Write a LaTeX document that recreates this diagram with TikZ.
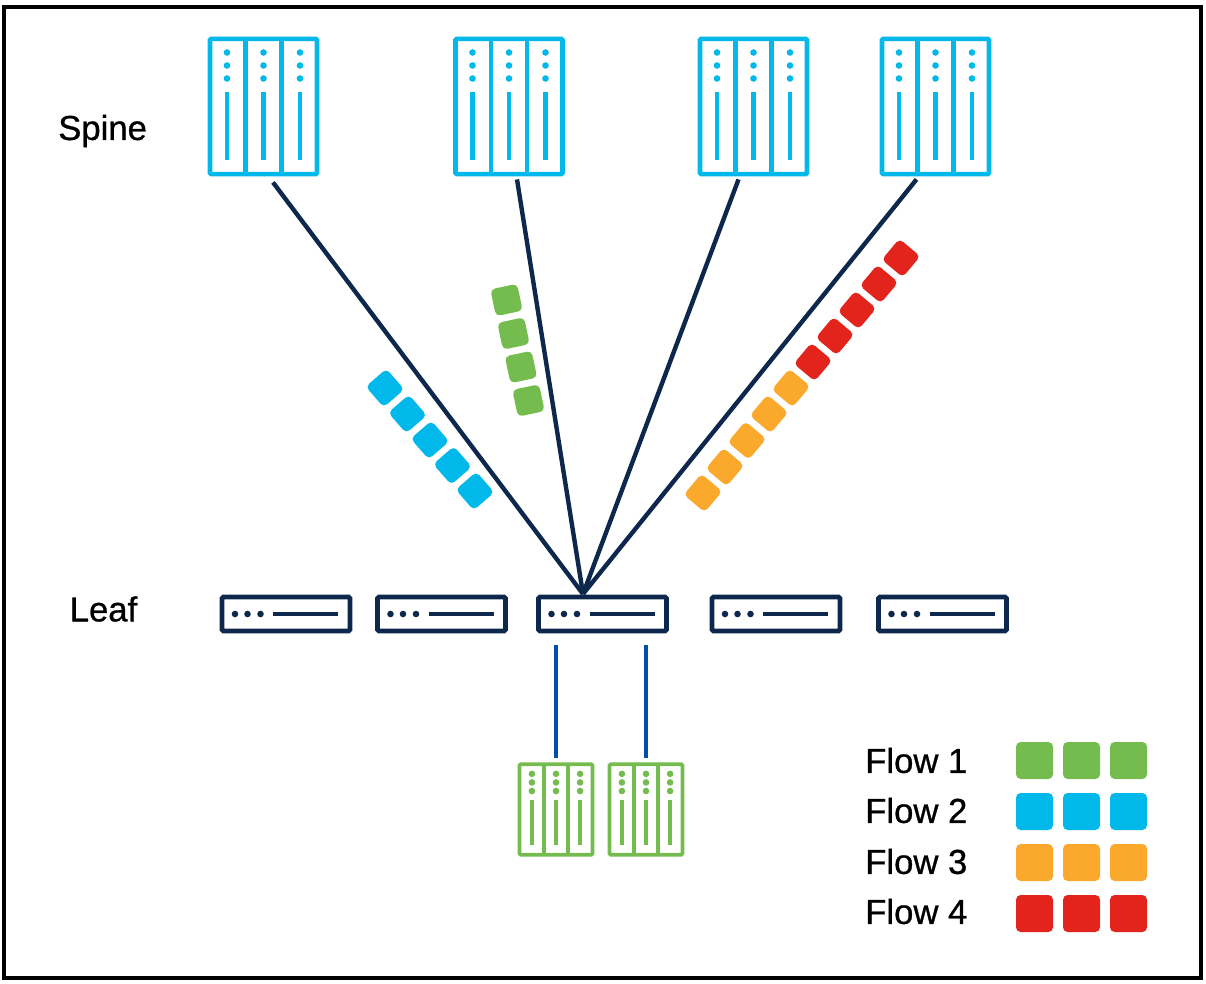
\documentclass[tikz,border=0pt]{standalone}
\usepackage{fontspec}
\newfontfamily\labelfont[FakeBold=0.8]{Liberation Sans}
\usetikzlibrary{calc}
\definecolor{navy}{HTML}{0D274D}
\definecolor{hostblue}{HTML}{0050A8}
\definecolor{flowgreen}{HTML}{74BC4E}
\definecolor{flowblue}{HTML}{00B9EA}
\definecolor{floworange}{HTML}{FBA92D}
\definecolor{flowred}{HTML}{E3241D}
\tikzset{
x=.75pt,y=-.75pt,
spine node/.style={rectangle,draw=flowblue,line width=3.4pt,rounded corners=1pt,minimum width=80.25pt,minimum height=101.5pt,inner sep=0pt},
host node/.style={rectangle,draw=flowgreen,line width=2.8pt,rounded corners=1pt,minimum width=54.75pt,minimum height=68pt,inner sep=0pt},
leaf node/.style={rectangle,draw=navy,line width=3.4pt,rounded corners=1pt,minimum width=96pt,minimum height=25.5pt,inner sep=0pt},
uplink/.style={navy,line width=3.3pt},
hostlink/.style={hostblue,line width=3.6pt,shorten <=9pt,shorten >=3pt},
flow node/.style={rectangle,fill=#1,rounded corners=3.5pt,minimum size=20.5pt,inner sep=0pt},
key node/.style={rectangle,fill=#1,rounded corners=3.5pt,minimum size=27.75pt,inner sep=0pt},
label node/.style={font=\labelfont\fontsize{26pt}{29pt}\selectfont,text=black,inner sep=0pt,anchor=west}}

% dividers, dots and bars of one rack, drawn from the node centre
\newcommand{\rackmarks}[4]{%
\begin{scope}[shift={(#1.center)},scale=#3,#2]
  \foreach \xa in {-18,18} \draw[line width=#4] (\xa,-67) -- (\xa,67);
  \foreach \xa in {-36.5,0,36.5} {
    \foreach \ya in {-54,-41,-28} \fill (\xa,\ya) circle ({3.3/#3});
    \draw[line width=#4] (\xa,-14) -- (\xa,54);
  }
\end{scope}}
% dots and bar of one leaf switch
\newcommand{\leafmarks}[1]{%
\begin{scope}[shift={(#1.center)},navy]
  \foreach \xa in {-51,-38.5,-25.5} \fill (\xa,0) circle (3.3);
  \draw[line width=3.3pt] (-13,0) -- (52,0);
\end{scope}}

\begin{document}
\begin{tikzpicture}

\useasboundingbox (0,0) rectangle (1206,984);
\draw[black,line width=3.3pt] (4,7) rectangle (1201,978);

      \node[spine node] (s1) at (263.5,106.5) {};
      \node[spine node] (s2) at (509,106.5) {};
      \node[spine node] (s3) at (753.5,106.5) {};
      \node[spine node] (s4) at (935.5,106.5) {};

      \rackmarks{s1}{flowblue}{1}{3.3pt}
      \rackmarks{s2}{flowblue}{1}{3.3pt}
      \rackmarks{s3}{flowblue}{1}{3.3pt}
      \rackmarks{s4}{flowblue}{1}{3.3pt}

      \node[leaf node] (l1) at (286,614) {};
      \node[leaf node] (l2) at (441.5,614) {};
      \node[leaf node] (l3) at (602.5,614) {};
      \node[leaf node] (l4) at (776,614) {};
      \node[leaf node] (l5) at (942.5,614) {};

      \leafmarks{l1}
      \leafmarks{l2}
      \leafmarks{l3}
      \leafmarks{l4}
      \leafmarks{l5}

      \node[host node] (h1) at (556,809.5) {};
      \node[host node] (h2) at (646,809.5) {};

      \rackmarks{h1}{flowgreen}{.66}{2.8pt}
      \rackmarks{h2}{flowgreen}{.66}{2.8pt}

      \coordinate (hub) at (583,594);
      \draw[uplink] ($(s1.south)+(9.5,6)$) -- (hub);
      \draw[uplink] ($(s2.south)+(8,3)$) -- (hub);
      \draw[uplink] ($(s3.south)+(-15,3)$) -- (hub);
      \draw[uplink] ($(s4.south)+(-19,3)$) -- (hub);

      \draw[hostlink] (h1.north |- l3.south) -- (h1.north);
      \draw[hostlink] (h2.north |- l3.south) -- (h2.north);

      \foreach \i/\xa/\ya in {1/385/388,2/407.5/414,3/430/440,4/452.5/465.5,5/475/491}
        \node[flow node=flowblue,rotate=41] (b\i) at (\xa,\ya) {};
      \foreach \i/\xa/\ya in {1/506.5/300,2/513.5/333.5,3/521/367,4/528.5/400.5}
        \node[flow node=flowgreen,rotate=12] (g\i) at (\xa,\ya) {};
      \foreach \i/\xa/\ya in {1/703/493,2/725/467,3/747/440.5,4/769/414,5/791/388}
        \node[flow node=floworange,rotate=-40] (o\i) at (\xa,\ya) {};
      \foreach \i/\xa/\ya in {1/813/362,2/835/336,3/857/310,4/879/284,5/901/258}
        \node[flow node=flowred,rotate=-40] (r\i) at (\xa,\ya) {};

      \node[label node] (spine) at (58,131) {Spine};
      \node[label node] (leaf) at (69.5,609) {Leaf};

      \foreach \i/\ya/\colr in {1/760.5/flowgreen,2/810.5/flowblue,3/861.5/floworange,4/911.5/flowred} {
        \node[label node] (f\i) at (865,\ya) {Flow \i};
      }
      \foreach \i/\ya/\colr in {1/760.5/flowgreen,2/811.5/flowblue,3/862.5/floworange,4/913.5/flowred} {
        \node[key node=\colr] (k\i) at (1034.5,\ya) {};
        \node[key node=\colr] (m\i) at (1081.5,\ya) {};
        \node[key node=\colr] (n\i) at (1128.5,\ya) {};
      }
\end{tikzpicture}
\end{document}
